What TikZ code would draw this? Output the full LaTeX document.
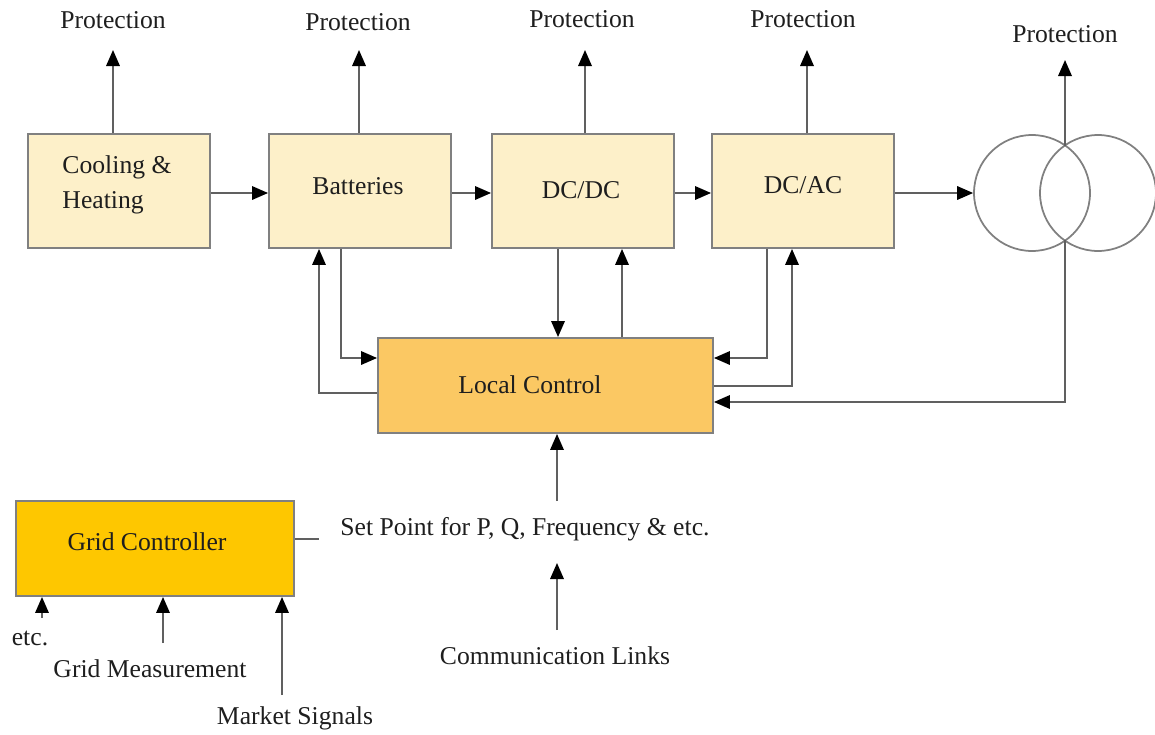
\documentclass[tikz,border=0pt]{standalone}
\usepackage{fontspec}
\setmainfont{Liberation Serif}
\usetikzlibrary{arrows.meta}
\definecolor{boxcream}{HTML}{FDF0C9}
\definecolor{localfill}{HTML}{FBC863}
\definecolor{gridfill}{HTML}{FEC700}
\definecolor{edgegray}{HTML}{808080}
\definecolor{linegray}{HTML}{606060}
\definecolor{inkcol}{HTML}{1E1E1E}
\begin{document}
\begin{tikzpicture}[x=0.02cm,y=-0.02cm,
  txt/.style={font=\fontsize{14.6}{19.8}\selectfont, text=inkcol, inner sep=1pt},
  block/.style={draw=edgegray, line width=1.1pt, inner sep=0pt, fill=boxcream,
                minimum width=3.64cm, minimum height=2.28cm},
  ring/.style={circle, draw=edgegray, line width=1pt, inner sep=0pt, minimum size=2.32cm},
  wire/.style={draw=linegray, line width=1pt},
  arr/.style={wire, -{Triangle[length=0.32cm,width=0.27cm,color=black]}}
]
\useasboundingbox (0,0) rectangle (1155,734);

% power chain
\node[block] (cool) at (119,191) {};
\node[block] (bat)  at (360,191) {};
\node[block] (dcdc) at (583,191) {};
\node[block] (dcac) at (803,191) {};
\node[txt, align=left] (coolt) at (117,185) {Cooling \&\\Heating};
\node[txt] (batt)  at (358,186) {Batteries};
\node[txt] (dcdct) at (581,190) {DC/DC};
\node[txt] (dcact) at (803,185) {DC/AC};

% transformer
\node[ring] (t1) at (1032,193) {};
\node[ring] (t2) at (1098,193) {};
\coordinate (ttop) at (1065,146);
\coordinate (tbot) at (1065,240);

% protection outputs
\node[txt] (p1) at (113,20) {Protection};
\node[txt] (p2) at (358,22) {Protection};
\node[txt] (p3) at (582,19) {Protection};
\node[txt] (p4) at (803,19) {Protection};
\node[txt] (p5) at (1065,34) {Protection};
\coordinate (p1tip) at (113,50);
\coordinate (p2tip) at (359,50);
\coordinate (p3tip) at (585,50);
\coordinate (p4tip) at (807,50);
\coordinate (p5tip) at (1065,60);
\draw[arr] (cool.north -| p1tip) -- (p1tip);
\draw[arr] (bat.north -| p2tip) -- (p2tip);
\draw[arr] (dcdc.north -| p3tip) -- (p3tip);
\draw[arr] (dcac.north -| p4tip) -- (p4tip);
\draw[arr] (ttop) -- (p5tip);

% forward power flow
\draw[arr] (cool.east |- 0,193) -- (bat.west |- 0,193);
\draw[arr] (bat.east |- 0,193) -- (dcdc.west |- 0,193);
\draw[arr] (dcdc.east |- 0,193) -- (dcac.west |- 0,193);
\draw[arr] (dcac.east |- 0,193) -- (t1.west |- 0,193);

% local control
\node[block, fill=localfill, minimum width=6.7cm, minimum height=1.9cm] (local) at (545.5,385.5) {};
\node[txt] (localt) at (530,385) {Local Control};

\draw[arr] (bat.south -| 341,0) |- (local.west |- 0,358);
\draw[arr] (local.west |- 0,393) -| (bat.south -| 319,0);
\draw[arr] (dcdc.south -| 558,0) -- (local.north -| 558,0);
\draw[arr] (local.north -| 622,0) -- (dcdc.south -| 622,0);
\draw[arr] (dcac.south -| 767,0) |- (local.east |- 0,358);
\draw[arr] (local.east |- 0,386) -| (dcac.south -| 792,0);
\draw[arr] (tbot) |- (local.east |- 0,402);

% set point and communication
\node[txt] (sp) at (525,529) {Set Point for P, Q, Frequency \& etc.};
\node[txt] (comm) at (555,656) {Communication Links};
\coordinate (spsrc) at (557,501);
\coordinate (commsrc) at (557,630);
\coordinate (commtip) at (557,563);
\draw[arr] (spsrc) -- (local.south -| spsrc);
\draw[arr] (commsrc) -- (commtip);

% grid controller
\node[block, fill=gridfill, minimum width=5.56cm, minimum height=1.9cm] (grid) at (155,548.5) {};
\node[txt] (gridt) at (147,542) {Grid Controller};
\coordinate (gridout) at (319,539);
\draw[wire] (grid.east |- gridout) -- (gridout);

\node[txt] (etc) at (30,638) {etc.};
\node[txt] (gm) at (150,669) {Grid Measurement};
\node[txt] (ms) at (295,718) {Market Signals};
\coordinate (etcsrc) at (42,618);
\coordinate (gmsrc) at (163,643);
\coordinate (mssrc) at (282,695);
\draw[arr] (etcsrc) -- (grid.south -| etcsrc);
\draw[arr] (gmsrc) -- (grid.south -| gmsrc);
\draw[arr] (mssrc) -- (grid.south -| mssrc);
\end{tikzpicture}
\end{document}
